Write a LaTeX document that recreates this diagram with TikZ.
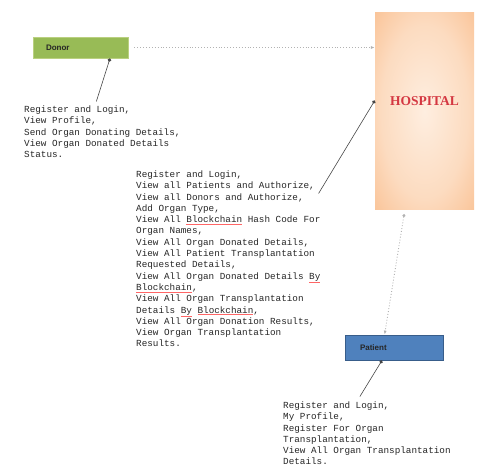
\documentclass[tikz,border=0pt]{standalone}
\usepackage{fontspec}
\setmainfont{Liberation Serif}
\setsansfont{Liberation Sans}
\setmonofont{Liberation Mono}
\usetikzlibrary{arrows.meta}

\definecolor{donorgreen}{RGB}{152,187,86}
\definecolor{donorline}{RGB}{186,208,128}
\definecolor{patientblue}{RGB}{79,129,189}
\definecolor{patientline}{RGB}{56,93,138}
\definecolor{hospedge}{RGB}{248,176,118}
\definecolor{hospmid}{RGB}{254,238,224}
\definecolor{hospred}{RGB}{212,55,65}
\definecolor{linkgrey}{RGB}{70,70,70}
\pgfdeclareradialshading{hospglow}{\pgfpoint{0bp}{0bp}}{color(0bp)=(hospmid); color(22bp)=(hospmid!70!hospedge); color(48bp)=(hospedge); color(75bp)=(hospedge)}
\newcommand{\spellmark}[1]{{\color{red!60}\underline{\color{black!85}#1}}}

\begin{document}
\begin{tikzpicture}[x=1pt,y=-1pt]
\tikzstyle{every node}+=[inner sep=0pt]
\tikzstyle{actor}=[draw, line width=0.8pt, minimum height=21pt, inner xsep=13pt, align=left, text=black!85, font=\sffamily\bfseries\fontsize{8}{9}\selectfont]
\tikzstyle{info}=[anchor=north west, align=left, text=black!85, font=\ttfamily\fontsize{9.3}{11.3}\selectfont]
\tikzstyle{link}=[draw=linkgrey, line width=0.6pt, -{Circle[length=3.5pt]}]
\tikzstyle{flow}=[draw=black!30, line width=0.9pt, dotted, -{Latex[length=4pt]}]
\useasboundingbox (0,0) rectangle (477,470);
% boxes
\node (donor) [actor, fill=donorgreen, draw=donorline, text width=69pt] at (80.5,47.5) {Donor};
\node (hospital) [shade, shading=hospglow, minimum width=99pt, minimum height=197pt] at (424.5,111.5) {};
\node (hospname) [font=\bfseries\fontsize{13.5}{15}\selectfont, text=hospred] at ([yshift=10.5pt]hospital.center) {HOSPITAL};
\node (patient) [actor, fill=patientblue, draw=patientline, minimum height=25pt, inner xsep=15pt, text width=68pt] at (394,347.5) {Patient};
% texts
\node (donortext) [info] at (24,105.5) {Register and Login,\\
View Profile,\\
Send Organ Donating Details,\\
View Organ Donated Details\\
Status.};
\node (hospitaltext) [info] at (136,170.5) {Register and Login,\\
View all Patients and Authorize,\\
View all Donors and Authorize,\\
Add Organ Type,\\
View All \spellmark{Blockchain} Hash Code For\\
Organ Names,\\
View All Organ Donated Details,\\
View All Patient Transplantation\\
Requested Details,\\
View All Organ Donated Details \spellmark{By}\\
\spellmark{Blockchain},\\
View All Organ Transplantation\\
Details \spellmark{By} \spellmark{Blockchain},\\
View All Organ Donation Results,\\
View Organ Transplantation\\
Results.};
\node (patienttext) [info] at (283,401.5) {Register and Login,\\
My Profile,\\
Register For Organ\\
Transplantation,\\
View All Organ Transplantation\\
Details.};
% connectors
\draw [flow, shorten <=6pt] (donor.east) -- (donor.east -| hospital.west);
\draw [flow, {Circle[length=3pt]}-{Latex[length=4pt]}, shorten <=4pt] ([xshift=30pt]hospital.south west) -- ([xshift=40pt]patient.north west);
\draw [link] ([xshift=-6pt,yshift=4pt]donortext.north) -- ([xshift=29.5pt]donor.south);
\draw [link] ([xshift=-2pt,yshift=-23pt]hospitaltext.north east) -- ([yshift=11pt]hospital.west);
\draw [link] ([xshift=-7pt,yshift=5pt]patienttext.north) -- ([xshift=-12pt]patient.south);
\end{tikzpicture}
\end{document}
